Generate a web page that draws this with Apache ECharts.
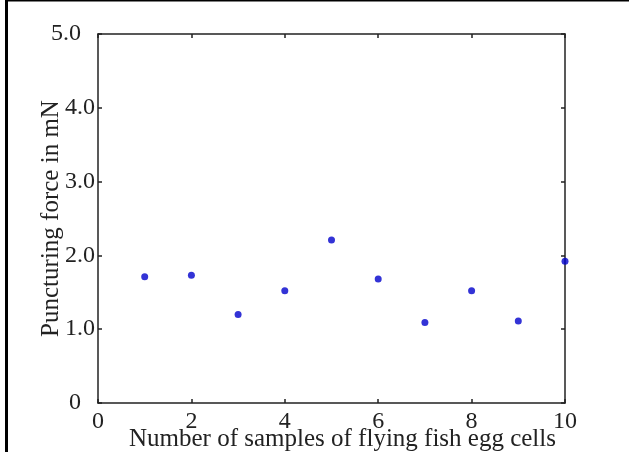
<!DOCTYPE html>
<html>
<head>
<meta charset="utf-8">
<script src="https://cdn.jsdelivr.net/npm/echarts@6/dist/echarts.min.js"></script>
<style>
  html, body { margin: 0; padding: 0; background: #fff; }
  #chart { width: 629px; height: 452px; }
</style>
</head>
<body>
<div id="chart"></div>
<script>
// sample number and puncturing force (mN)
const samples = [1, 2, 3, 4, 5, 6, 7, 8, 9, 10]
const forces = [1.71, 1.73, 1.20, 1.52, 2.21, 1.68, 1.09, 1.52, 1.11, 1.92]

const xTitle = 'Number of samples of flying fish egg cells'
const yTitle = 'Puncturing force in mN'

const FONT = '"Liberation Serif", "Times New Roman", serif'
const INK = '#222'

const chart = echarts.init(document.getElementById('chart'))

const frameAxis = {
  axisLine: { show: true, onZero: false, lineStyle: { color: INK, width: 1.5 } },
  axisTick: { show: true, inside: true, length: 4, lineStyle: { color: INK, width: 1.5 } },
  splitLine: { show: false },
}

chart.setOption({
  animation: false,
  backgroundColor: '#fff',
  grid: { left: 98, top: 34, right: 64, bottom: 49, outerBoundsMode: 'none', containLabel: false },
  graphic: [
    { type: 'line', shape: { x1: 6.5, y1: 0, x2: 6.5, y2: 452 }, style: { stroke: '#000', lineWidth: 3 } },
    { type: 'line', shape: { x1: 5, y1: 0.5, x2: 629, y2: 0.5 }, style: { stroke: '#000', lineWidth: 2 } },
  ],
  xAxis: [
    {
      type: 'value', min: 0, max: 10, interval: 2,
      ...frameAxis,
      axisLabel: { color: INK, fontFamily: FONT, fontSize: 24, margin: 7 },
      name: xTitle,
      nameLocation: 'middle',
      nameGap: 24,
      nameMoveOverlap: false,
      nameTextStyle: { color: INK, fontFamily: FONT, fontSize: 25, padding: [0, 0, 0, 22] },
    },
    {
      type: 'value', min: 0, max: 10, interval: 2, position: 'top',
      ...frameAxis,
      axisLabel: { show: false },
    },
  ],
  yAxis: [
    {
      type: 'value', min: 0, max: 5, interval: 1,
      ...frameAxis,
      axisLabel: {
        color: INK, fontFamily: FONT, fontSize: 24, margin: 3,
        formatter: v => {
          if (v === 0) return '{z|0}'
          if (v === 5) return '{z|5.0}'
          return v.toFixed(1)
        },
        rich: {
          z: { color: INK, fontFamily: FONT, fontSize: 24, padding: [0, 14, 0, 0] },
        },
      },
      name: yTitle,
      nameLocation: 'middle',
      nameGap: 34,
      nameRotate: 90,
      nameMoveOverlap: false,
      nameTextStyle: { color: INK, fontFamily: FONT, fontSize: 25 },
    },
    {
      type: 'value', min: 0, max: 5, interval: 1, position: 'right',
      ...frameAxis,
      axisLabel: { show: false },
    },
  ],
  series: [{
    type: 'scatter',
    data: samples.map((s, i) => [s, forces[i]]),
    symbol: 'circle',
    symbolSize: 7,
    itemStyle: { color: '#0000cc' },
    clip: false,
  }],
})
</script>
</body>
</html>
